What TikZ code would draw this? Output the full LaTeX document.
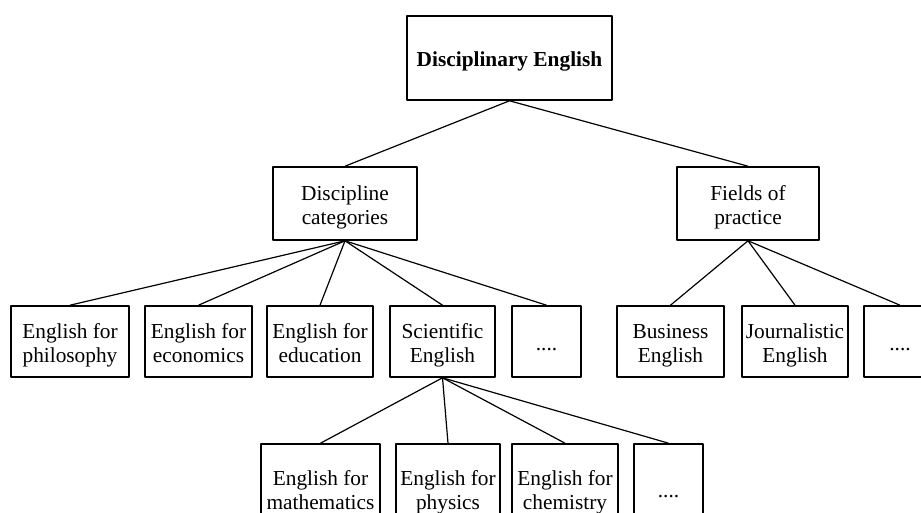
\documentclass[tikz,border=0pt]{standalone}
\usepackage{fontspec}
\setmainfont{Liberation Serif}
\newcommand{\boxtopstrut}{\rule{0pt}{18pt}}
\newcommand{\boxbotstrut}{\rule[-5.2pt]{0pt}{5.2pt}}
\newcommand{\duo}[2]{\boxtopstrut#1\\#2\boxbotstrut}
\begin{document}
\begin{tikzpicture}[x=0.75pt,y=-0.75pt, line join=round,
	box/.style={draw,line width=1.2pt,align=center,inner sep=0pt,font=\fontsize{16}{18}\selectfont},
	rowa/.style={box,minimum height=73*0.75},
	rowb/.style={box,minimum height=71*0.75},
	rowc/.style={box,minimum height=90*0.75},
	link/.style={line width=0.9pt}]
	\useasboundingbox (0,0) rectangle (921,513);
	%\draw[line width=0.05pt,gray,dashed] (0,0) grid[step=50] (921,513);
	\node[box,font=\fontsize{16}{18}\selectfont\bfseries,minimum width=205*0.75,minimum height=84*0.75] (root) at (509.5,58) {\boxtopstrut Disciplinary English\boxbotstrut};
	\node[rowa,minimum width=144*0.75] (disc) at (345,203.5) {\duo{Discipline}{categories}};
	\node[rowa,minimum width=142*0.75] (field) at (748,203.5) {\duo{Fields of}{practice}};
	\node[rowb,minimum width=118*0.75] (phil) at (70,341.5) {\duo{English for}{philosophy}};
	\node[rowb,minimum width=107*0.75] (econ) at (198.5,341.5) {\duo{English for}{economics}};
	\node[rowb,minimum width=106*0.75] (educ) at (320,341.5) {\duo{English for}{education}};
	\node[rowb,minimum width=105*0.75] (sci) at (442.5,341.5) {\duo{Scientific}{English}};
	\node[rowb,minimum width=69*0.75] (dotsa) at (546.5,341.5) {\boxtopstrut....\boxbotstrut};
	\node[rowb,minimum width=107*0.75] (busi) at (670.5,341.5) {\duo{Business}{English}};
	\node[rowb,minimum width=106*0.75] (journ) at (795,341.5) {\duo{Journalistic}{English}};
	\node[rowb,minimum width=72*0.75] (dotsb) at (900,341.5) {\boxtopstrut....\boxbotstrut};
	\node[rowc,minimum width=119*0.75] (math) at (320.5,489) {\duo{English for}{mathematics}};
	\node[rowc,minimum width=104*0.75] (phys) at (448,489) {\duo{English for}{physics}};
	\node[rowc,minimum width=106*0.75] (chem) at (565,489) {\duo{English for}{chemistry}};
	\node[rowc,minimum width=69*0.75] (dotsc) at (668.5,489) {\boxtopstrut....\boxbotstrut};
	\draw[link] (root.south)--(disc.north) (root.south)--(field.north);
	\foreach \c in {phil,econ,educ,sci,dotsa}
		\draw[link] (disc.south)--(\c.north);
	\foreach \c in {busi,journ,dotsb}
		\draw[link] (field.south)--(\c.north);
	\foreach \c in {math,phys,chem,dotsc}
		\draw[link] (sci.south)--(\c.north);
\end{tikzpicture}
\end{document}
